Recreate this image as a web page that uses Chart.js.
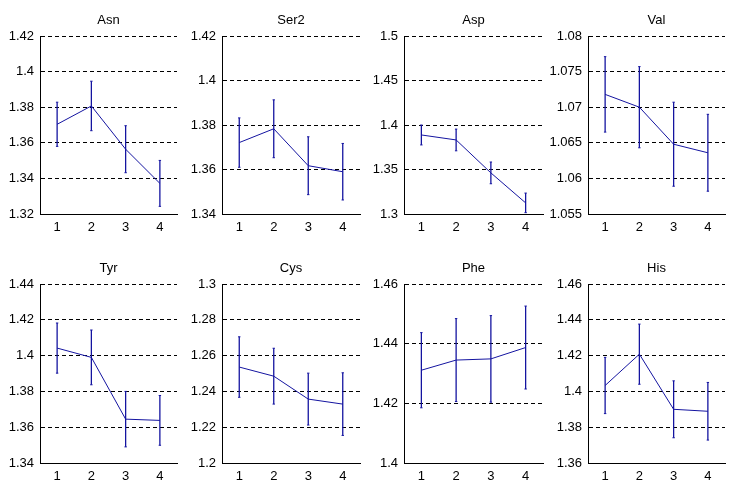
<!DOCTYPE html>
<html>
<head>
<meta charset="utf-8">
<script src="https://cdn.jsdelivr.net/npm/chart.js@4"></script>
<style>
  body { margin: 0; background: #fff; }
  #wrap { position: relative; width: 752px; height: 498px; overflow: hidden; }
  #wrap canvas { position: absolute; }
</style>
</head>
<body>
<div id="wrap"></div>
<script>
// panel names and x categories
const names = ['Asn', 'Ser2', 'Asp', 'Val', 'Tyr', 'Cys', 'Phe', 'His'];
const groups = ['1', '2', '3', '4'];

// means and error half-widths
const asnMean = [1.3704, 1.3807, 1.3564, 1.3372];
const asnErr = [0.0124, 0.0139, 0.0132, 0.0129];
const ser2Mean = [1.3721, 1.3783, 1.3617, 1.3590];
const ser2Err = [0.0111, 0.0130, 0.0130, 0.0127];
const aspMean = [1.3888, 1.3832, 1.3462, 1.3125];
const aspErr = [0.0112, 0.0122, 0.0122, 0.0110];
const valMean = [1.0718, 1.0700, 1.0648, 1.0636];
const valErr = [0.0053, 0.0057, 0.0059, 0.0054];
const tyrMean = [1.4042, 1.3990, 1.3645, 1.3638];
const tyrErr = [0.0140, 0.0153, 0.0155, 0.0139];
const cysMean = [1.2536, 1.2485, 1.2357, 1.2329];
const cysErr = [0.0169, 0.0156, 0.0145, 0.0175];
const pheMean = [1.4311, 1.4345, 1.4349, 1.4387];
const pheErr = [0.0126, 0.0139, 0.0145, 0.0139];
const hisMean = [1.4033, 1.4208, 1.3900, 1.3889];
const hisErr = [0.0157, 0.0168, 0.0159, 0.0161];

// y axis ranges (tick labels come from min/max/step)
const yMin = [1.32, 1.34, 1.3, 1.055, 1.34, 1.2, 1.4, 1.36];
const yMax = [1.42, 1.42, 1.5, 1.08, 1.44, 1.3, 1.46, 1.46];
const yStep = [0.02, 0.02, 0.05, 0.005, 0.02, 0.02, 0.02, 0.02];

const means = [asnMean, ser2Mean, aspMean, valMean, tyrMean, cysMean, pheMean, hisMean];
const errs = [asnErr, ser2Err, aspErr, valErr, tyrErr, cysErr, pheErr, hisErr];

// page layout (pixels)
const axisX = [40, 222, 404, 588];
const plotW = [137, 138, 139, 137];
const rowTop = [36, 284];
const plotH = [178, 179];
const axisW = 40, titleH = 36, padRight = 10;
const xAxisH = [34, 35];

const blue = '#1414a0';
const font = { family: '"Liberation Sans", Arial, sans-serif', size: 13 };

const wrap = document.getElementById('wrap');

names.forEach((name, i) => {
    const col = i % 4, row = Math.floor(i / 4);
    const canvas = document.createElement('canvas');
    const w = axisW + plotW[col] + padRight;
    const h = titleH + plotH[row] + xAxisH[row];
    canvas.width = w;
    canvas.height = h;
    canvas.style.width = w + 'px';
    canvas.style.height = h + 'px';
    canvas.style.left = (axisX[col] - axisW) + 'px';
    canvas.style.top = (rowTop[row] - titleH) + 'px';
    wrap.appendChild(canvas);

    // main line
    const datasets = [{
        data: groups.map((g, k) => ({ x: g, y: means[i][k] })),
        borderColor: blue,
        borderWidth: 1,
        pointRadius: 0,
        tension: 0
    }];

    // one small dataset per error bar
    groups.forEach((g, k) => {
        datasets.push({
            data: [
                { x: g, y: means[i][k] - errs[i][k] },
                { x: g, y: means[i][k] + errs[i][k] }
            ],
            borderColor: blue,
            borderWidth: 1.3,
            pointStyle: 'line',
            pointRadius: 1.2,
            pointBorderWidth: 1,
            pointBorderColor: blue
        });
    });

    new Chart(canvas, {
        type: 'line',
        data: { labels: groups, datasets: datasets },
        options: {
            responsive: false,
            animation: false,
            devicePixelRatio: 1,
            layout: { padding: { left: 0, right: padRight, top: 0, bottom: 0 } },
            plugins: {
                legend: { display: false },
                tooltip: { enabled: false },
                title: {
                    display: true,
                    text: name,
                    fullSize: false,
                    color: '#000',
                    font: { family: font.family, size: 13, weight: 'normal', lineHeight: '16px' },
                    padding: { top: 12, bottom: 8 }
                }
            },
            scales: {
                x: {
                    type: 'category',
                    offset: true,
                    grid: { display: false, drawTicks: false },
                    border: { display: true, color: '#000', width: 1 },
                    ticks: { color: '#000', font: font, padding: 6, maxRotation: 0 },
                    afterFit: s => { s.height = xAxisH[row]; }
                },
                y: {
                    min: yMin[i],
                    max: yMax[i],
                    grid: { color: '#000', lineWidth: 1, drawTicks: false },
                    border: { display: true, color: '#000', width: 1, dash: [4, 3] },
                    ticks: {
                        stepSize: yStep[i],
                        color: '#000',
                        font: font,
                        padding: 6,
                        callback: v => String(parseFloat(Number(v).toFixed(4)))
                    },
                    afterFit: s => { s.width = axisW; }
                }
            }
        }
    });
});
</script>
</body>
</html>
